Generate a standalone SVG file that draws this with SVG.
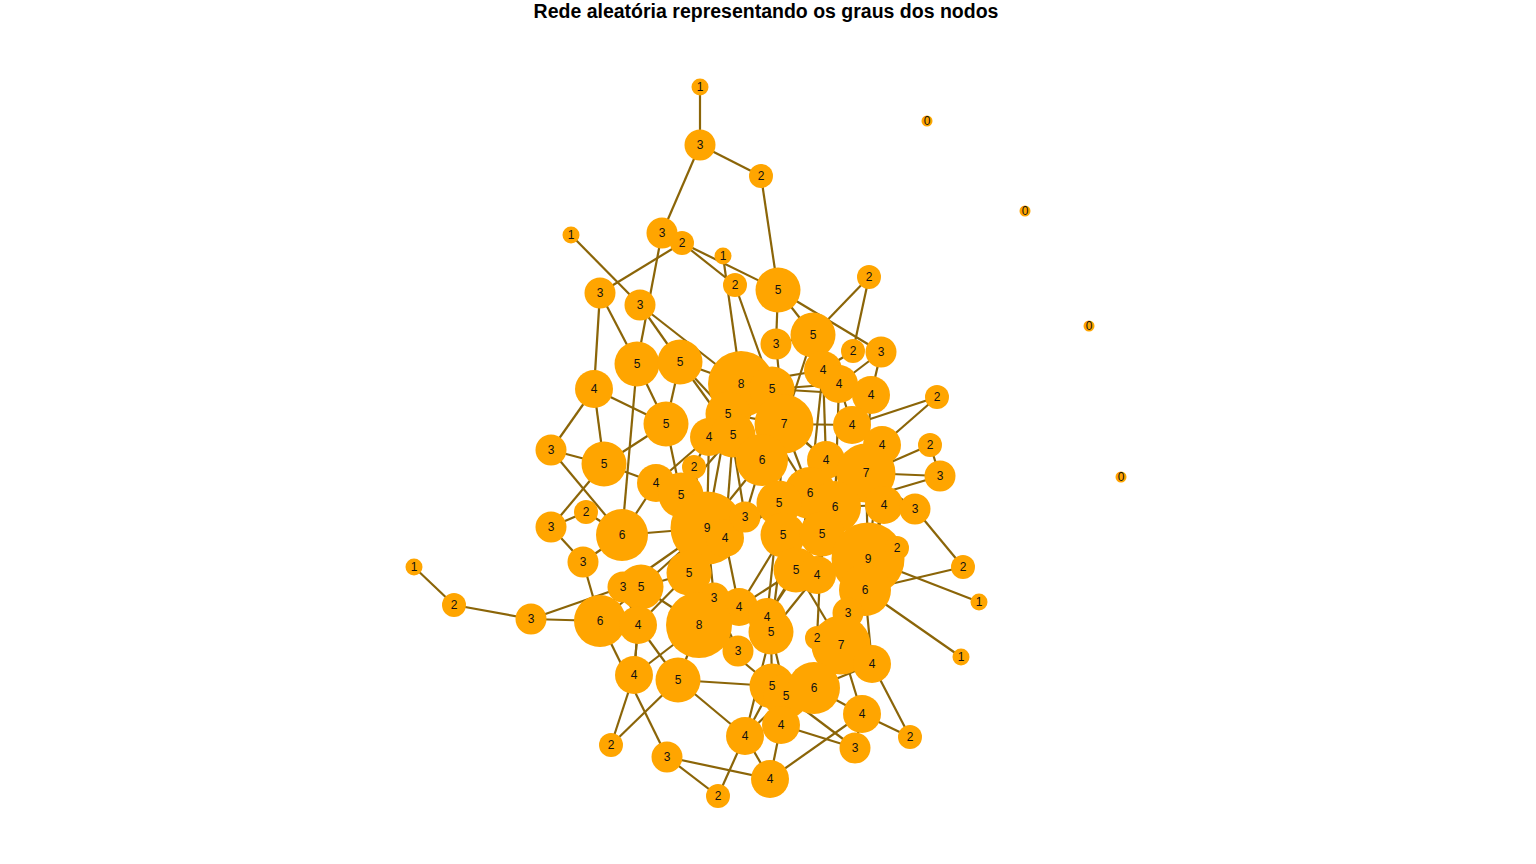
<svg xmlns="http://www.w3.org/2000/svg" width="1536" height="864" viewBox="0 0 1536 864">
<style>
.e{stroke:#8B6508;stroke-width:2.2;fill:none}
.n circle{fill:#FFA500}
.l text{font-family:"Liberation Sans",Arial,sans-serif;font-size:12px;fill:#111;text-anchor:middle}
.t{font-family:"Liberation Sans",Arial,sans-serif;font-size:19.5px;font-weight:bold;fill:#000;text-anchor:middle}
</style>
<rect width="1536" height="864" fill="#fff"/>
<text class="t" x="766" y="18">Rede aleatória representando os graus dos nodos</text>
<g id="edges" class="e">
<line x1="700" y1="87" x2="700" y2="145"/>
<line x1="700" y1="145" x2="761" y2="176"/>
<line x1="700" y1="145" x2="662" y2="233"/>
<line x1="761" y1="176" x2="778" y2="290"/>
<line x1="571" y1="235" x2="640" y2="305"/>
<line x1="662" y1="233" x2="778" y2="290"/>
<line x1="662" y1="233" x2="637" y2="364"/>
<line x1="682" y1="243" x2="600" y2="293"/>
<line x1="682" y1="243" x2="735" y2="285"/>
<line x1="723" y1="256" x2="741" y2="384"/>
<line x1="735" y1="285" x2="772" y2="389"/>
<line x1="778" y1="290" x2="881" y2="352"/>
<line x1="778" y1="290" x2="813" y2="335"/>
<line x1="778" y1="290" x2="776" y2="344"/>
<line x1="869" y1="277" x2="813" y2="335"/>
<line x1="869" y1="277" x2="853" y2="351"/>
<line x1="600" y1="293" x2="594" y2="389"/>
<line x1="600" y1="293" x2="637" y2="364"/>
<line x1="640" y1="305" x2="680" y2="362"/>
<line x1="640" y1="305" x2="741" y2="384"/>
<line x1="776" y1="344" x2="813" y2="335"/>
<line x1="776" y1="344" x2="784" y2="424"/>
<line x1="813" y1="335" x2="823" y2="370"/>
<line x1="813" y1="335" x2="784" y2="424"/>
<line x1="853" y1="351" x2="823" y2="370"/>
<line x1="881" y1="352" x2="839" y2="384"/>
<line x1="881" y1="352" x2="871" y2="395"/>
<line x1="937" y1="397" x2="852" y2="425"/>
<line x1="937" y1="397" x2="882" y2="445"/>
<line x1="637" y1="364" x2="666" y2="424"/>
<line x1="637" y1="364" x2="622" y2="535"/>
<line x1="637" y1="364" x2="680" y2="362"/>
<line x1="680" y1="362" x2="741" y2="384"/>
<line x1="680" y1="362" x2="733" y2="435"/>
<line x1="680" y1="362" x2="728" y2="414"/>
<line x1="680" y1="362" x2="666" y2="424"/>
<line x1="594" y1="389" x2="666" y2="424"/>
<line x1="594" y1="389" x2="551" y2="450"/>
<line x1="594" y1="389" x2="604" y2="464"/>
<line x1="551" y1="450" x2="604" y2="464"/>
<line x1="551" y1="450" x2="622" y2="535"/>
<line x1="604" y1="464" x2="666" y2="424"/>
<line x1="604" y1="464" x2="551" y2="527"/>
<line x1="604" y1="464" x2="656" y2="483"/>
<line x1="586" y1="512" x2="551" y2="527"/>
<line x1="586" y1="512" x2="622" y2="535"/>
<line x1="551" y1="527" x2="583" y2="562"/>
<line x1="583" y1="562" x2="622" y2="535"/>
<line x1="583" y1="562" x2="600" y2="621"/>
<line x1="622" y1="535" x2="656" y2="483"/>
<line x1="622" y1="535" x2="707" y2="528"/>
<line x1="656" y1="483" x2="681" y2="495"/>
<line x1="656" y1="483" x2="709" y2="437"/>
<line x1="694" y1="467" x2="709" y2="437"/>
<line x1="694" y1="467" x2="707" y2="528"/>
<line x1="666" y1="424" x2="681" y2="495"/>
<line x1="709" y1="437" x2="741" y2="384"/>
<line x1="709" y1="437" x2="707" y2="528"/>
<line x1="728" y1="414" x2="741" y2="384"/>
<line x1="728" y1="414" x2="784" y2="424"/>
<line x1="728" y1="414" x2="707" y2="528"/>
<line x1="728" y1="414" x2="745" y2="517"/>
<line x1="733" y1="435" x2="762" y2="460"/>
<line x1="733" y1="435" x2="681" y2="495"/>
<line x1="733" y1="435" x2="725" y2="538"/>
<line x1="733" y1="435" x2="772" y2="389"/>
<line x1="741" y1="384" x2="823" y2="370"/>
<line x1="741" y1="384" x2="810" y2="493"/>
<line x1="741" y1="384" x2="826" y2="460"/>
<line x1="772" y1="389" x2="839" y2="384"/>
<line x1="772" y1="389" x2="871" y2="395"/>
<line x1="772" y1="389" x2="762" y2="460"/>
<line x1="784" y1="424" x2="852" y2="425"/>
<line x1="784" y1="424" x2="826" y2="460"/>
<line x1="784" y1="424" x2="810" y2="493"/>
<line x1="784" y1="424" x2="779" y2="503"/>
<line x1="784" y1="424" x2="762" y2="460"/>
<line x1="823" y1="370" x2="826" y2="460"/>
<line x1="823" y1="370" x2="810" y2="493"/>
<line x1="839" y1="384" x2="852" y2="425"/>
<line x1="839" y1="384" x2="835" y2="507"/>
<line x1="871" y1="395" x2="852" y2="425"/>
<line x1="871" y1="395" x2="866" y2="473"/>
<line x1="882" y1="445" x2="866" y2="473"/>
<line x1="882" y1="445" x2="835" y2="507"/>
<line x1="882" y1="445" x2="868" y2="559"/>
<line x1="930" y1="445" x2="940" y2="476"/>
<line x1="930" y1="445" x2="866" y2="473"/>
<line x1="940" y1="476" x2="866" y2="473"/>
<line x1="940" y1="476" x2="835" y2="507"/>
<line x1="826" y1="460" x2="822" y2="534"/>
<line x1="826" y1="460" x2="783" y2="535"/>
<line x1="866" y1="473" x2="868" y2="559"/>
<line x1="866" y1="473" x2="810" y2="493"/>
<line x1="884" y1="505" x2="915" y2="509"/>
<line x1="884" y1="505" x2="835" y2="507"/>
<line x1="884" y1="505" x2="868" y2="559"/>
<line x1="884" y1="505" x2="865" y2="590"/>
<line x1="915" y1="509" x2="963" y2="567"/>
<line x1="915" y1="509" x2="866" y2="473"/>
<line x1="762" y1="460" x2="745" y2="517"/>
<line x1="762" y1="460" x2="707" y2="528"/>
<line x1="762" y1="460" x2="783" y2="535"/>
<line x1="681" y1="495" x2="689" y2="573"/>
<line x1="681" y1="495" x2="725" y2="538"/>
<line x1="810" y1="493" x2="783" y2="535"/>
<line x1="810" y1="493" x2="796" y2="570"/>
<line x1="779" y1="503" x2="725" y2="538"/>
<line x1="779" y1="503" x2="689" y2="573"/>
<line x1="779" y1="503" x2="796" y2="570"/>
<line x1="779" y1="503" x2="767" y2="617"/>
<line x1="835" y1="507" x2="817" y2="575"/>
<line x1="835" y1="507" x2="848" y2="613"/>
<line x1="707" y1="528" x2="714" y2="598"/>
<line x1="707" y1="528" x2="699" y2="625"/>
<line x1="707" y1="528" x2="745" y2="517"/>
<line x1="707" y1="528" x2="641" y2="587"/>
<line x1="707" y1="528" x2="623" y2="587"/>
<line x1="725" y1="538" x2="739" y2="607"/>
<line x1="783" y1="535" x2="771" y2="632"/>
<line x1="783" y1="535" x2="739" y2="607"/>
<line x1="822" y1="534" x2="817" y2="575"/>
<line x1="822" y1="534" x2="817" y2="638"/>
<line x1="822" y1="534" x2="767" y2="617"/>
<line x1="868" y1="559" x2="979" y2="602"/>
<line x1="868" y1="559" x2="897" y2="548"/>
<line x1="868" y1="559" x2="865" y2="590"/>
<line x1="868" y1="559" x2="817" y2="575"/>
<line x1="868" y1="559" x2="848" y2="613"/>
<line x1="868" y1="559" x2="841" y2="645"/>
<line x1="897" y1="548" x2="865" y2="590"/>
<line x1="689" y1="573" x2="699" y2="625"/>
<line x1="689" y1="573" x2="641" y2="587"/>
<line x1="689" y1="573" x2="738" y2="651"/>
<line x1="689" y1="573" x2="638" y2="625"/>
<line x1="796" y1="570" x2="767" y2="617"/>
<line x1="796" y1="570" x2="841" y2="645"/>
<line x1="796" y1="570" x2="739" y2="607"/>
<line x1="817" y1="575" x2="771" y2="632"/>
<line x1="963" y1="567" x2="865" y2="590"/>
<line x1="623" y1="587" x2="600" y2="621"/>
<line x1="623" y1="587" x2="638" y2="625"/>
<line x1="623" y1="587" x2="531" y2="619"/>
<line x1="641" y1="587" x2="600" y2="621"/>
<line x1="641" y1="587" x2="634" y2="675"/>
<line x1="641" y1="587" x2="699" y2="625"/>
<line x1="714" y1="598" x2="738" y2="651"/>
<line x1="714" y1="598" x2="767" y2="617"/>
<line x1="739" y1="607" x2="699" y2="625"/>
<line x1="865" y1="590" x2="961" y2="657"/>
<line x1="865" y1="590" x2="872" y2="664"/>
<line x1="414" y1="567" x2="454" y2="605"/>
<line x1="454" y1="605" x2="531" y2="619"/>
<line x1="531" y1="619" x2="600" y2="621"/>
<line x1="600" y1="621" x2="667" y2="757"/>
<line x1="600" y1="621" x2="638" y2="625"/>
<line x1="638" y1="625" x2="634" y2="675"/>
<line x1="699" y1="625" x2="634" y2="675"/>
<line x1="699" y1="625" x2="678" y2="680"/>
<line x1="699" y1="625" x2="772" y2="686"/>
<line x1="699" y1="625" x2="738" y2="651"/>
<line x1="771" y1="632" x2="772" y2="686"/>
<line x1="771" y1="632" x2="786" y2="696"/>
<line x1="771" y1="632" x2="745" y2="736"/>
<line x1="848" y1="613" x2="841" y2="645"/>
<line x1="817" y1="638" x2="841" y2="645"/>
<line x1="841" y1="645" x2="872" y2="664"/>
<line x1="841" y1="645" x2="814" y2="688"/>
<line x1="841" y1="645" x2="862" y2="714"/>
<line x1="872" y1="664" x2="910" y2="737"/>
<line x1="872" y1="664" x2="814" y2="688"/>
<line x1="634" y1="675" x2="611" y2="745"/>
<line x1="678" y1="680" x2="611" y2="745"/>
<line x1="678" y1="680" x2="745" y2="736"/>
<line x1="678" y1="680" x2="772" y2="686"/>
<line x1="678" y1="680" x2="638" y2="625"/>
<line x1="772" y1="686" x2="814" y2="688"/>
<line x1="772" y1="686" x2="745" y2="736"/>
<line x1="786" y1="696" x2="781" y2="725"/>
<line x1="786" y1="696" x2="855" y2="748"/>
<line x1="786" y1="696" x2="814" y2="688"/>
<line x1="786" y1="696" x2="745" y2="736"/>
<line x1="814" y1="688" x2="862" y2="714"/>
<line x1="814" y1="688" x2="781" y2="725"/>
<line x1="862" y1="714" x2="910" y2="737"/>
<line x1="862" y1="714" x2="770" y2="779"/>
<line x1="862" y1="714" x2="855" y2="748"/>
<line x1="781" y1="725" x2="855" y2="748"/>
<line x1="781" y1="725" x2="770" y2="779"/>
<line x1="745" y1="736" x2="718" y2="796"/>
<line x1="745" y1="736" x2="770" y2="779"/>
<line x1="667" y1="757" x2="770" y2="779"/>
<line x1="667" y1="757" x2="718" y2="796"/>
</g>
<g id="nodes" class="n">
<g id="n1"><circle cx="700" cy="87" r="8.5"/></g>
<g id="n2"><circle cx="700" cy="145" r="15.5"/></g>
<g id="n3"><circle cx="761" cy="176" r="12"/></g>
<g id="z1"><circle cx="927" cy="121" r="5.5"/></g>
<g id="z2"><circle cx="1025" cy="211" r="5.5"/></g>
<g id="z3"><circle cx="1089" cy="326" r="5.5"/></g>
<g id="z4"><circle cx="1121" cy="477" r="5.5"/></g>
<g id="b1"><circle cx="571" cy="235" r="8.5"/></g>
<g id="b2"><circle cx="662" cy="233" r="15.5"/></g>
<g id="b3"><circle cx="682" cy="243" r="12"/></g>
<g id="b4"><circle cx="723" cy="256" r="8.5"/></g>
<g id="b5"><circle cx="735" cy="285" r="12"/></g>
<g id="b6"><circle cx="778" cy="290" r="22.5"/></g>
<g id="b7"><circle cx="869" cy="277" r="12"/></g>
<g id="b8"><circle cx="600" cy="293" r="15.5"/></g>
<g id="b9"><circle cx="640" cy="305" r="15.5"/></g>
<g id="c1"><circle cx="813" cy="335" r="22.5"/></g>
<g id="c2"><circle cx="776" cy="344" r="15.5"/></g>
<g id="c3"><circle cx="853" cy="351" r="12"/></g>
<g id="c4"><circle cx="881" cy="352" r="15.5"/></g>
<g id="c5"><circle cx="637" cy="364" r="22.5"/></g>
<g id="c6"><circle cx="680" cy="362" r="22.5"/></g>
<g id="c7"><circle cx="594" cy="389" r="19"/></g>
<g id="c8"><circle cx="741" cy="384" r="33"/></g>
<g id="c9"><circle cx="772" cy="389" r="22.5"/></g>
<g id="c10"><circle cx="823" cy="370" r="19"/></g>
<g id="c11"><circle cx="839" cy="384" r="19"/></g>
<g id="c12"><circle cx="871" cy="395" r="19"/></g>
<g id="c13"><circle cx="937" cy="397" r="12"/></g>
<g id="d1"><circle cx="728" cy="414" r="22.5"/></g>
<g id="d2"><circle cx="784" cy="424" r="29.5"/></g>
<g id="d3"><circle cx="666" cy="424" r="22.5"/></g>
<g id="d4"><circle cx="709" cy="437" r="19"/></g>
<g id="d5"><circle cx="733" cy="435" r="22.5"/></g>
<g id="d6"><circle cx="852" cy="425" r="19"/></g>
<g id="d7"><circle cx="882" cy="445" r="19"/></g>
<g id="d8"><circle cx="930" cy="445" r="12"/></g>
<g id="d9"><circle cx="551" cy="450" r="15.5"/></g>
<g id="d10"><circle cx="604" cy="464" r="22.5"/></g>
<g id="d11"><circle cx="762" cy="460" r="26"/></g>
<g id="d12"><circle cx="826" cy="460" r="19"/></g>
<g id="d13"><circle cx="866" cy="473" r="29.5"/></g>
<g id="d14"><circle cx="940" cy="476" r="15.5"/></g>
<g id="e1"><circle cx="656" cy="483" r="19"/></g>
<g id="e2"><circle cx="694" cy="467" r="12"/></g>
<g id="e3"><circle cx="681" cy="495" r="22.5"/></g>
<g id="e4"><circle cx="810" cy="493" r="26"/></g>
<g id="e5"><circle cx="779" cy="503" r="22.5"/></g>
<g id="e6"><circle cx="835" cy="507" r="26"/></g>
<g id="e7"><circle cx="884" cy="505" r="19"/></g>
<g id="e8"><circle cx="915" cy="509" r="15.5"/></g>
<g id="e9"><circle cx="586" cy="512" r="12"/></g>
<g id="e10"><circle cx="551" cy="527" r="15.5"/></g>
<g id="e11"><circle cx="622" cy="535" r="26"/></g>
<g id="e12"><circle cx="707" cy="528" r="36.5"/></g>
<g id="e13"><circle cx="725" cy="538" r="19"/></g>
<g id="e14"><circle cx="745" cy="517" r="15.5"/></g>
<g id="e15"><circle cx="783" cy="535" r="22.5"/></g>
<g id="e16"><circle cx="822" cy="534" r="22.5"/></g>
<g id="e17"><circle cx="868" cy="559" r="36.5"/></g>
<g id="e18"><circle cx="897" cy="548" r="12"/></g>
<g id="f1"><circle cx="583" cy="562" r="15.5"/></g>
<g id="f2"><circle cx="689" cy="573" r="22.5"/></g>
<g id="f3"><circle cx="796" cy="570" r="22.5"/></g>
<g id="f4"><circle cx="817" cy="575" r="19"/></g>
<g id="f5"><circle cx="963" cy="567" r="12"/></g>
<g id="f6"><circle cx="623" cy="587" r="15.5"/></g>
<g id="f7"><circle cx="641" cy="587" r="22.5"/></g>
<g id="f8"><circle cx="714" cy="598" r="15.5"/></g>
<g id="f9"><circle cx="739" cy="607" r="19"/></g>
<g id="f10"><circle cx="865" cy="590" r="26"/></g>
<g id="f11"><circle cx="979" cy="602" r="8.5"/></g>
<g id="g1"><circle cx="414" cy="567" r="8.5"/></g>
<g id="g2"><circle cx="454" cy="605" r="12"/></g>
<g id="g3"><circle cx="531" cy="619" r="15.5"/></g>
<g id="g4"><circle cx="600" cy="621" r="26"/></g>
<g id="g5"><circle cx="638" cy="625" r="19"/></g>
<g id="g6"><circle cx="699" cy="625" r="33"/></g>
<g id="g7"><circle cx="767" cy="617" r="19"/></g>
<g id="g8"><circle cx="771" cy="632" r="22.5"/></g>
<g id="g9"><circle cx="848" cy="613" r="15.5"/></g>
<g id="g10"><circle cx="817" cy="638" r="12"/></g>
<g id="g11"><circle cx="841" cy="645" r="29.5"/></g>
<g id="g12"><circle cx="738" cy="651" r="15.5"/></g>
<g id="g13"><circle cx="961" cy="657" r="8.5"/></g>
<g id="g14"><circle cx="872" cy="664" r="19"/></g>
<g id="h1"><circle cx="634" cy="675" r="19"/></g>
<g id="h2"><circle cx="678" cy="680" r="22.5"/></g>
<g id="h3"><circle cx="772" cy="686" r="22.5"/></g>
<g id="h4"><circle cx="786" cy="696" r="22.5"/></g>
<g id="h5"><circle cx="814" cy="688" r="26"/></g>
<g id="h6"><circle cx="862" cy="714" r="19"/></g>
<g id="h7"><circle cx="745" cy="736" r="19"/></g>
<g id="h8"><circle cx="781" cy="725" r="19"/></g>
<g id="h9"><circle cx="910" cy="737" r="12"/></g>
<g id="h10"><circle cx="855" cy="748" r="15.5"/></g>
<g id="i1"><circle cx="611" cy="745" r="12"/></g>
<g id="i2"><circle cx="667" cy="757" r="15.5"/></g>
<g id="i3"><circle cx="770" cy="779" r="19"/></g>
<g id="i4"><circle cx="718" cy="796" r="12"/></g>
</g>
<g id="labels" class="l">
<text x="700" y="91">1</text><text x="700" y="149">3</text><text x="761" y="180">2</text>
<text x="927" y="125">0</text><text x="1025" y="215">0</text><text x="1089" y="330">0</text><text x="1121" y="481">0</text>
<text x="571" y="239">1</text><text x="662" y="237">3</text><text x="682" y="247">2</text><text x="723" y="260">1</text>
<text x="735" y="289">2</text><text x="778" y="294">5</text><text x="869" y="281">2</text><text x="600" y="297">3</text>
<text x="640" y="309">3</text><text x="813" y="339">5</text><text x="776" y="348">3</text><text x="853" y="355">2</text>
<text x="881" y="356">3</text><text x="637" y="368">5</text><text x="680" y="366">5</text><text x="594" y="393">4</text>
<text x="741" y="388">8</text><text x="772" y="393">5</text><text x="823" y="374">4</text><text x="839" y="388">4</text>
<text x="871" y="399">4</text><text x="937" y="401">2</text><text x="728" y="418">5</text><text x="784" y="428">7</text>
<text x="666" y="428">5</text><text x="709" y="441">4</text><text x="733" y="439">5</text><text x="852" y="429">4</text>
<text x="882" y="449">4</text><text x="930" y="449">2</text><text x="551" y="454">3</text><text x="604" y="468">5</text>
<text x="762" y="464">6</text><text x="826" y="464">4</text><text x="866" y="477">7</text><text x="940" y="480">3</text>
<text x="656" y="487">4</text><text x="694" y="471">2</text><text x="681" y="499">5</text><text x="810" y="497">6</text>
<text x="779" y="507">5</text><text x="835" y="511">6</text><text x="884" y="509">4</text><text x="915" y="513">3</text>
<text x="586" y="516">2</text><text x="551" y="531">3</text><text x="622" y="539">6</text><text x="707" y="532">9</text>
<text x="725" y="542">4</text><text x="745" y="521">3</text><text x="783" y="539">5</text><text x="822" y="538">5</text>
<text x="868" y="563">9</text><text x="897" y="552">2</text><text x="583" y="566">3</text><text x="689" y="577">5</text>
<text x="796" y="574">5</text><text x="817" y="579">4</text><text x="963" y="571">2</text><text x="623" y="591">3</text>
<text x="641" y="591">5</text><text x="714" y="602">3</text><text x="739" y="611">4</text><text x="865" y="594">6</text>
<text x="979" y="606">1</text><text x="414" y="571">1</text><text x="454" y="609">2</text><text x="531" y="623">3</text>
<text x="600" y="625">6</text><text x="638" y="629">4</text><text x="699" y="629">8</text><text x="767" y="621">4</text>
<text x="771" y="636">5</text><text x="848" y="617">3</text><text x="817" y="642">2</text><text x="841" y="649">7</text>
<text x="738" y="655">3</text><text x="961" y="661">1</text><text x="872" y="668">4</text><text x="634" y="679">4</text>
<text x="678" y="684">5</text><text x="772" y="690">5</text><text x="786" y="700">5</text><text x="814" y="692">6</text>
<text x="862" y="718">4</text><text x="745" y="740">4</text><text x="781" y="729">4</text><text x="910" y="741">2</text>
<text x="855" y="752">3</text><text x="611" y="749">2</text><text x="667" y="761">3</text><text x="770" y="783">4</text>
<text x="718" y="800">2</text>
</g>
</svg>
